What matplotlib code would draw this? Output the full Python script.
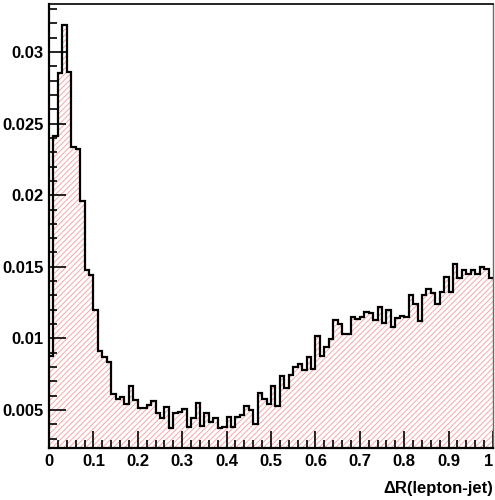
import matplotlib
matplotlib.use("Agg")
import matplotlib.pyplot as plt
import numpy as np
from matplotlib.ticker import MultipleLocator

# 100 bins between 0 and 1
bin_edges = np.linspace(0.0, 1.0, 101)
counts = [
    0.0088, 0.0241, 0.0285, 0.0319, 0.0286, 0.0234, 0.0232, 0.0196, 0.0148, 0.0144,
    0.0120, 0.00915, 0.00873, 0.00833, 0.00610, 0.00577, 0.00593, 0.00540, 0.00670, 0.00570,
    0.00516, 0.00512, 0.00532, 0.00566, 0.00480, 0.00444, 0.00520, 0.00378, 0.00477, 0.00483,
    0.00506, 0.00381, 0.00446, 0.00546, 0.00390, 0.00480, 0.00420, 0.00445, 0.00372, 0.00385,
    0.00454, 0.00379, 0.00454, 0.00463, 0.00529, 0.00500, 0.00402, 0.00621, 0.00580, 0.00540,
    0.00665, 0.00525, 0.00738, 0.00657, 0.00742, 0.00800, 0.00820, 0.00779, 0.00873, 0.00784,
    0.01017, 0.00877, 0.00938, 0.00994, 0.01129, 0.01098, 0.01031, 0.01029, 0.01152, 0.01133,
    0.01147, 0.01184, 0.01175, 0.01131, 0.01217, 0.01110, 0.01198, 0.01082, 0.01140, 0.01156,
    0.01152, 0.01303, 0.01238, 0.01122, 0.01303, 0.01343, 0.01319, 0.01240, 0.01326, 0.01431,
    0.01326, 0.01518, 0.01419, 0.01478, 0.01450, 0.01478, 0.01450, 0.01501, 0.01483, 0.01424,
]
x_ticks = [0, 0.1, 0.2, 0.3, 0.4, 0.5, 0.6, 0.7, 0.8, 0.9, 1]
x_ticklabels = ['0', '0.1', '0.2', '0.3', '0.4', '0.5', '0.6', '0.7', '0.8', '0.9', '1']
y_ticks = [0.005, 0.01, 0.015, 0.02, 0.025, 0.03]
y_ticklabels = ['0.005', '0.01', '0.015', '0.02', '0.025', '0.03']
x_label = "ΔR(lepton-jet)"

plt.rcParams['font.family'] = ['Liberation Sans', 'DejaVu Sans']
plt.rcParams['hatch.color'] = '#f6a8a8'
plt.rcParams['hatch.linewidth'] = 0.7

fig = plt.figure(figsize=(4.95, 5.0), dpi=100)
ax = fig.add_axes([0.099, 0.104, 0.897, 0.888])

# hatched fill
ax.stairs(counts, bin_edges, baseline=0, fill=True, facecolor='none',
          edgecolor='#f6a8a8', hatch='//////', linewidth=0)
# black outline
ax.stairs(counts, bin_edges, baseline=None, color='black', linewidth=1.6)

ax.set_xlim(0, 1)
ax.set_ylim(0.00235, 0.03335)

ax.xaxis.set_minor_locator(MultipleLocator(0.02))
ax.yaxis.set_minor_locator(MultipleLocator(0.001))
ax.tick_params(which='both', direction='in', top=False, right=False, width=1.2)
ax.tick_params(which='major', length=12, labelsize=12, pad=4)
ax.tick_params(which='minor', length=6)

ax.set_xticks(x_ticks)
ax.set_xticklabels(x_ticklabels)
ax.set_yticks(y_ticks)
ax.set_yticklabels(y_ticklabels)
for lab in ax.get_xticklabels() + ax.get_yticklabels():
    lab.set_fontweight('bold')
ax.get_xticklabels()[-1].set_horizontalalignment('right')

for side in ['left', 'bottom']:
    ax.spines[side].set_linewidth(1.6)
ax.spines['top'].set_linewidth(1.2)
ax.spines['right'].set_linewidth(1.0)
ax.spines['right'].set_color('#806060')

ax.text(1.0, -0.075, x_label, transform=ax.transAxes, ha='right', va='top',
        fontsize=12, fontweight='bold')

fig.savefig('out.png', dpi=100)
